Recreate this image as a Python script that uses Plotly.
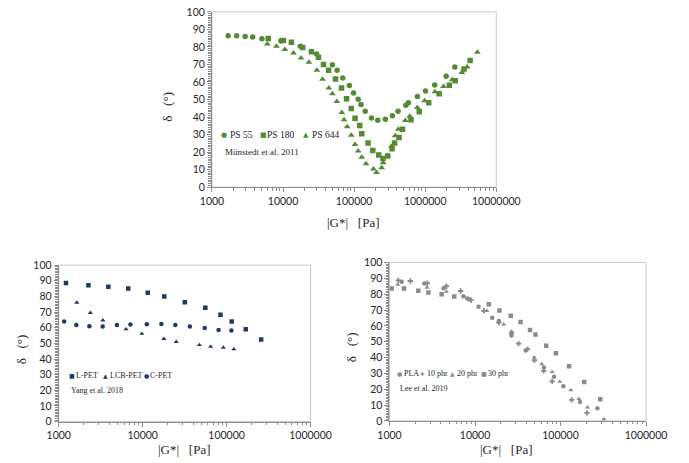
import plotly.graph_objects as go

# ---------------- Data: Münstedt et al. 2011 (top) ----------------
ps55_g = [1690, 2220, 2930, 3740, 5040, 9300, 17500, 29600, 49400, 57600, 69200, 85800,
          98000, 114000, 125000, 143000, 175000, 215000, 275000, 345000, 415000, 534000,
          580000, 776000, 1010000, 1360000, 1970000, 2610000]
ps55_d = [86.3, 86.3, 85.9, 85.7, 84.6, 83.5, 80.4, 75.9, 69.8, 66.7, 62.2, 58.0,
          53.7, 50.2, 47.2, 43.3, 39.4, 38.1, 38.7, 40.7, 43.3, 46.7,
          48.1, 51.7, 54.8, 58.3, 63.3, 68.5]

ps180_g = [6180, 10100, 13100, 18900, 25100, 31500, 37100, 43700, 54700, 66400, 78200,
           91200, 103000, 120000, 128000, 157000, 183000, 222000, 254000, 296000, 341000,
           371000, 428000, 479000, 631000, 824000, 1120000, 1570000, 2180000, 2640000,
           3520000, 4280000]
ps180_d = [84.8, 83.7, 82.6, 79.6, 77.2, 74.1, 70.0, 66.7, 61.7, 56.5, 50.4,
           44.8, 39.3, 35.2, 30.4, 25.2, 20.9, 18.3, 16.3, 17.8, 21.9,
           25.2, 28.3, 33.0, 38.5, 43.0, 48.1, 53.3, 58.1, 60.7,
           67.4, 72.2]

ps644_g = [6000, 8070, 10600, 14000, 17900, 23100, 29900, 35900, 44100, 49400, 57000,
           67100, 72100, 79900, 91200, 103000, 114000, 128000, 147000, 187000, 207000,
           244000, 256000, 296000, 334000, 378000, 419000, 525000, 606000, 774000,
           980000, 1370000, 1810000, 2390000, 3280000, 3900000, 5410000]
ps644_d = [81.7, 80.4, 78.5, 76.5, 73.7, 71.3, 66.7, 61.5, 56.5, 53.3, 48.9,
           42.6, 38.5, 34.4, 29.6, 24.3, 20.7, 17.0, 13.3, 10.4, 8.3,
           11.1, 13.9, 18.1, 23.3, 29.3, 33.0, 38.0, 40.4, 45.4,
           49.3, 54.4, 57.4, 61.3, 65.4, 68.5, 76.9]

# ---------------- Data: Yang et al. 2018 (bottom left) ----------------
lpet_g = [1220, 2260, 3900, 6730, 11500, 18100, 31800, 55800, 84500, 115000, 169000, 258000]
lpet_d = [88.6, 87.1, 86.1, 85.1, 82.4, 79.9, 76.3, 72.8, 68.3, 63.9, 59.1, 52.5]

lcb_g = [1640, 2380, 3360, 6340, 9770, 17900, 25100, 47300, 64600, 91400, 122000]
lcb_d = [76.1, 69.5, 64.7, 59.1, 56.2, 52.9, 51.0, 49.0, 47.9, 47.3, 46.3]

cpet_g = [1160, 1620, 2320, 3340, 4930, 7150, 11200, 16700, 24500, 36500, 54800, 80200, 114000]
cpet_d = [63.9, 61.8, 61.0, 60.8, 61.8, 62.0, 62.2, 62.4, 61.8, 60.8, 59.8, 58.5, 58.3]

# ---------------- Data: Lee et al. 2019 (bottom right) ----------------
pla_g = [1390, 2550, 4290, 7320, 8110, 8610, 11000, 15900, 19000, 26700, 39100,
         64000, 84100, 108000, 169000, 270000]
pla_d = [87.9, 86.7, 83.8, 78.7, 77.3, 76.6, 72.1, 65.2, 63.1, 53.9, 44.5,
         33.8, 27.9, 21.9, 11.9, 8.0]

p10_g = [1270, 1750, 2770, 4630, 6780, 8980, 12700, 19000, 26700, 32400, 41100,
         49600, 63500, 79800, 135000, 204000]
p10_d = [88.7, 88.3, 86.9, 85.0, 82.0, 76.2, 69.5, 62.1, 55.5, 48.8, 45.3,
         38.3, 31.6, 25.0, 13.3, 5.1]

p20_g = [1250, 2750, 4630, 13700, 21700, 26700, 49200, 60400, 79800, 98000,
         132000, 164000, 207000, 322000]
p20_d = [86.1, 84.2, 81.6, 69.5, 61.0, 56.5, 40.2, 35.9, 30.9, 24.8,
         19.5, 13.9, 8.6, 1.2]

p30_g = [1060, 1480, 2170, 2850, 4070, 5720, 14500, 19300, 26200, 34100, 44000,
         50900, 68000, 88400, 126000, 189000, 291000]
p30_d = [83.6, 83.6, 82.2, 81.1, 79.9, 78.5, 73.6, 69.7, 66.4, 62.5, 57.4,
         54.5, 47.5, 42.8, 34.6, 24.6, 13.7]

y_ticks = [0, 10, 20, 30, 40, 50, 60, 70, 80, 90, 100]
x_ticks_top = [1000, 10000, 100000, 1000000, 10000000]
x_ticks_bot = [1000, 10000, 100000, 1000000]

# ---------------- Styling ----------------
W, H = 689, 463
GREEN = "#548a33"
NAVY = "#1f3864"
GREY = "#8a8a8a"
AXC = "#8c8c8c"
FRAME = "#c8c8c8"
TICKFONT = dict(family="Lato, 'Open Sans', sans-serif", size=10.5, color="#262626")
SERIF = "'Liberation Serif', 'Times New Roman', serif"
SYMFONT = "'DejaVu Sans', sans-serif"


def minor_log(lo, hi):
    vals = []
    d = lo
    while d < hi:
        for m in range(2, 10):
            vals.append(m * d)
        d *= 10
    return vals


fig = go.Figure()


def add(xs, ys, sym, size, color, ax):
    fig.add_trace(go.Scatter(x=xs, y=ys, mode="markers", showlegend=False,
                             marker=dict(symbol=sym, size=size, color=color,
                                         line=dict(width=0)),
                             xaxis="x" + ax, yaxis="y" + ax))


add(ps55_g, ps55_d, "circle", 5.5, GREEN, "")
add(ps180_g, ps180_d, "square", 5.5, GREEN, "")
add(ps644_g, ps644_d, "triangle-up", 6, GREEN, "")

add(lpet_g, lpet_d, "square", 4.5, NAVY, "2")
add(lcb_g, lcb_d, "triangle-up", 4.5, NAVY, "2")
add(cpet_g, cpet_d, "circle", 4.5, NAVY, "2")

add(pla_g, pla_d, "circle", 4.5, GREY, "3")
add(p10_g, p10_d, "cross", 4.5, GREY, "3")
add(p20_g, p20_d, "triangle-up", 4.5, GREY, "3")
add(p30_g, p30_d, "square", 4.5, GREY, "3")


def xax(x0, x1, anchor, ticks, hi):
    return dict(domain=[x0 / W, x1 / W], anchor=anchor, type="log",
                range=[3, 7 if hi == 1e7 else 6],
                tickmode="array", tickvals=ticks, ticktext=[str(t) for t in ticks],
                showline=True, linecolor=AXC, linewidth=1, mirror=False,
                ticks="outside", ticklen=4, tickcolor=AXC, tickfont=TICKFONT,
                showgrid=False, zeroline=False,
                minor=dict(tickmode="array", tickvals=minor_log(1000, hi),
                           ticks="outside", ticklen=2.5, tickcolor=AXC, showgrid=False))


def yax(y0, y1, anchor):
    return dict(domain=[1 - y1 / H, 1 - y0 / H], anchor=anchor, range=[0, 100],
                tickmode="array", tickvals=y_ticks, ticktext=[str(t) for t in y_ticks],
                showline=True, linecolor=AXC, linewidth=1,
                ticks="outside", ticklen=4, tickcolor=AXC, tickfont=TICKFONT,
                showgrid=False, zeroline=False,
                minor=dict(dtick=1, ticks="outside", ticklen=2.5, tickcolor=AXC,
                           showgrid=False))


fig.update_layout(
    width=W, height=H, margin=dict(l=0, r=0, t=0, b=0),
    paper_bgcolor="white", plot_bgcolor="white", showlegend=False,
    xaxis=xax(211, 511, "y", x_ticks_top, 1e7),
    yaxis=yax(6, 186, "x"),
    xaxis2=xax(49.3, 315, "y2", x_ticks_bot, 1e6),
    yaxis2=yax(266, 426.7, "x2"),
    xaxis3=xax(398.3, 669, "y3", x_ticks_bot, 1e6),
    yaxis3=yax(263.3, 426, "x3"),
)

# light frames around the plot areas
for ax in ["", "2", "3"]:
    fig.add_shape(type="rect", xref="x" + ax + " domain", yref="y" + ax + " domain",
                  x0=0, x1=1, y0=0, y1=1, line=dict(color=FRAME, width=1),
                  fillcolor="rgba(0,0,0,0)", layer="below")

NB = "\u00a0"


def ann(text, px, py, size, xanchor="left", angle=0, color="#262626", family=SERIF):
    fig.add_annotation(text=text, x=px / W, y=1 - py / H, xref="paper", yref="paper",
                       showarrow=False, xanchor=xanchor, yanchor="middle",
                       textangle=angle, borderpad=0,
                       font=dict(family=family, size=size, color=color))


# axis titles
xtitle = "|G*|" + NB * 3 + "[Pa]"
ytitle = "δ" + NB * 3 + "(°)"
ann(xtitle, 360, 222, 13, "center")
ann(ytitle, 164, 103, 13, "center", -90)
ann(xtitle, 182, 455, 13, "center")
ann(ytitle, 10, 352, 13, "center", -90)
ann(xtitle, 522, 455, 13, "center")
ann(ytitle, 359, 350, 13, "center", -90)


def leg(sym, color, label, mx, tx, py, size, symsize=7):
    ann(sym, mx, py, symsize, "center", color=color, family=SYMFONT)
    ann(label, tx, py, size, "left")


# legends (marker centre x, text start x, y)
leg("●", GREEN, "PS 55", 224, 228.5, 132, 9.5)
leg("■", GREEN, "PS 180", 265, 268.5, 132, 9.5)
leg("▲", GREEN, "PS 644", 310, 315, 132, 9.5)
ann("Münstedt et al. 2011", 223.5, 150, 9)

leg("■", NAVY, "L-PET", 63, 67, 379.3, 8, 6)
leg("▲", NAVY, "LCB-PET", 99, 102.5, 379.3, 8, 6)
leg("●", NAVY, "C-PET", 141.5, 145, 379.3, 8, 6)
ann("Yang et al. 2018", 61.5, 395, 8)

leg("●", GREY, "PLA", 408.5, 412.5, 377.3, 8, 6)
leg("✚", GREY, "10 phr", 433, 437, 377.3, 8, 5.5)
leg("▲", GREY, "20 phr", 465, 468.8, 377.3, 8, 6)
leg("■", GREY, "30 phr", 497.5, 501.3, 377.3, 8, 6)
ann("Lee et al. 2019", 408.5, 392.7, 8)

fig.write_html("out.html", config={"displayModeBar": False},
               post_script="document.body.style.margin='0';")
